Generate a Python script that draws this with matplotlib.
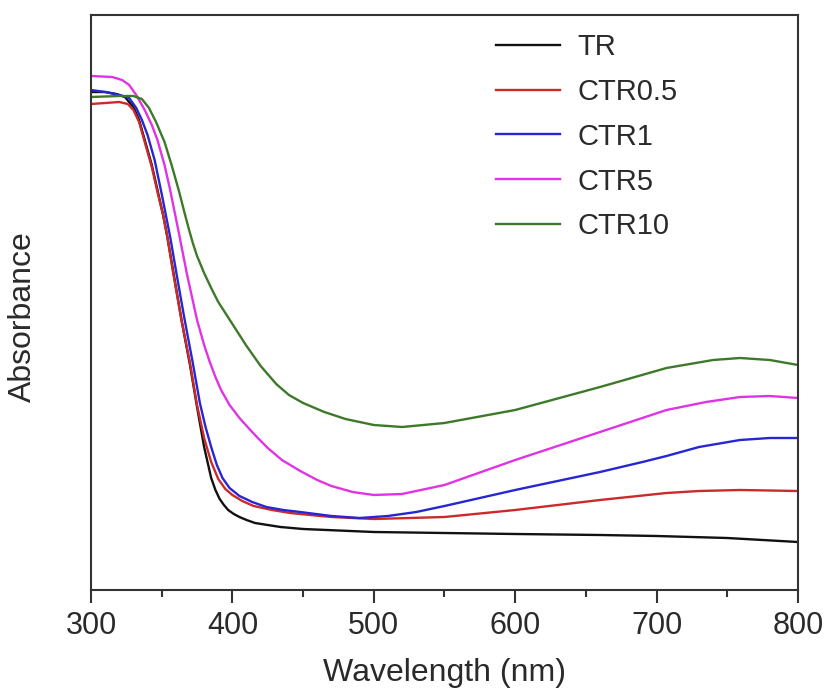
import matplotlib
matplotlib.use("Agg")
import matplotlib.pyplot as plt
from matplotlib.ticker import MultipleLocator

plt.rcParams['font.family'] = ['Liberation Sans', 'DejaVu Sans']

# Wavelength (nm) and absorbance (arbitrary units)
tr_wl = [300, 310, 318, 324, 330, 334, 338, 343, 347, 351, 354, 358, 364, 370, 375, 380, 385, 388, 391, 394, 397, 401, 405, 410, 416, 425, 434, 450, 500, 550, 600, 660, 700, 750, 800]
tr_ab = [498, 498, 496, 493, 483, 470, 450, 425, 400, 375, 353, 320, 270, 225, 183, 143, 112, 100, 91, 85, 80, 76, 73, 70, 67, 65, 63, 61, 58, 57, 56, 55, 54, 52, 48]

ctr05_wl = [300, 310, 320, 326, 330, 334, 338, 343, 347, 351, 354, 358, 364, 370, 375, 380, 385, 390, 395, 400, 407, 415, 428, 441, 455, 470, 500, 550, 600, 630, 660, 707, 730, 759, 800]
ctr05_ab = [486, 487, 488, 486, 480, 468, 448, 423, 398, 375, 353, 318, 270, 227, 185, 152, 128, 111, 101, 95, 89, 84, 80, 77, 75, 73, 71, 73, 80, 85, 90, 97, 99, 100, 99]

ctr1_wl = [300, 310, 320, 327, 332, 336, 340, 345, 350, 356, 361, 366, 372, 377, 381, 385, 389, 393, 398, 405, 414, 424, 436, 448, 470, 490, 510, 530, 550, 575, 600, 630, 660, 690, 707, 730, 759, 780, 800]
ctr1_ab = [500, 498, 495, 492, 482, 470, 455, 430, 396, 353, 312, 272, 227, 187, 163, 143, 125, 112, 102, 94, 88, 83, 80, 78, 74, 72, 74, 78, 84, 92, 100, 109, 118, 128, 134, 143, 150, 152, 152]

ctr5_wl = [300, 315, 322, 327, 332, 338, 343, 347, 352, 356, 362, 368, 375, 380, 384, 388, 392, 398, 405, 412, 418, 425, 435, 448, 460, 470, 485, 500, 520, 550, 600, 660, 707, 735, 759, 780, 800]
ctr5_ab = [514, 513, 510, 505, 495, 480, 465, 450, 425, 400, 358, 315, 270, 245, 228, 213, 200, 185, 172, 161, 152, 142, 130, 119, 110, 104, 98, 95, 96, 105, 130, 158, 180, 188, 193, 194, 192]

ctr10_wl = [300, 320, 330, 336, 341, 346, 352, 357, 362, 366, 369, 372, 375, 380, 385, 390, 395, 400, 410, 420, 431, 440, 450, 465, 480, 500, 520, 550, 600, 660, 707, 740, 759, 780, 800]
ctr10_ab = [493, 494, 494, 491, 482, 468, 448, 425, 400, 378, 362, 347, 334, 317, 302, 288, 277, 266, 244, 224, 206, 195, 187, 178, 171, 165, 163, 167, 180, 203, 222, 230, 232, 230, 225]

labels = ["TR", "CTR0.5", "CTR1", "CTR5", "CTR10"]
colors = ["#111111", "#cc2a2a", "#2626d4", "#e034e4", "#3c7a2a"]
series = [(tr_wl, tr_ab), (ctr05_wl, ctr05_ab), (ctr1_wl, ctr1_ab), (ctr5_wl, ctr5_ab), (ctr10_wl, ctr10_ab)]

txt = '#2a2a2a'
fig = plt.figure(figsize=(8.3, 6.96), dpi=100)
ax = fig.add_axes([91/830, 106/696, 707/830, 575/696])

for (wl, ab), lab, col in zip(series, labels, colors):
    ax.plot(wl, ab, color=col, lw=1.7, label=lab, solid_joinstyle='round')

ax.set_xlim(300, 800)
ax.set_ylim(0, 575)
ax.xaxis.set_major_locator(MultipleLocator(100))
ax.xaxis.set_minor_locator(MultipleLocator(50))
ax.set_yticks([])
ax.tick_params(axis='x', which='major', direction='out', length=9, width=1.5, labelsize=22, pad=6, colors='#333333', labelcolor=txt)
ax.tick_params(axis='x', which='minor', direction='out', length=5, width=1.5, colors='#333333')
for sp in ax.spines.values():
    sp.set_linewidth(1.5)
    sp.set_color('#333333')

ax.set_xlabel("Wavelength (nm)", fontsize=23, color=txt)
ax.xaxis.set_label_coords(0.5, -0.118)
ax.set_ylabel("Absorbance", fontsize=23, color=txt)
ax.yaxis.set_label_coords(-0.075, 0.475)

leg = ax.legend(loc='upper left', bbox_to_anchor=(0.573, 0.969), frameon=False,
                fontsize=21, handlelength=2.2, handletextpad=0.58, labelspacing=0.58,
                borderpad=0, borderaxespad=0)
for t in leg.get_texts():
    t.set_color(txt)

fig.savefig("out.png", dpi=100)
